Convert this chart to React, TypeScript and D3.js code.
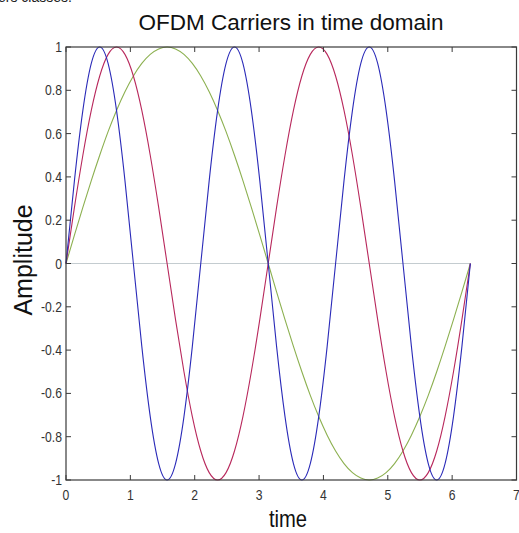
import React from "react";
import * as d3 from "d3";

const time = [0, 0.131, 0.262, 0.393, 0.524, 0.654, 0.785, 0.916, 1.047, 1.178, 1.309, 1.44, 1.571, 1.702, 1.833, 1.963, 2.094, 2.225, 2.356, 2.487, 2.618, 2.749, 2.88, 3.011, 3.142, 3.272, 3.403, 3.534, 3.665, 3.796, 3.927, 4.058, 4.189, 4.32, 4.451, 4.581, 4.712, 4.843, 4.974, 5.105, 5.236, 5.367, 5.498, 5.629, 5.76, 5.89, 6.021, 6.152, 6.283];

const carrier0 = [0, 0, 0, 0, 0, 0, 0, 0, 0, 0, 0, 0, 0, 0, 0, 0, 0, 0, 0, 0, 0, 0, 0, 0, 0, 0, 0, 0, 0, 0, 0, 0, 0, 0, 0, 0, 0, 0, 0, 0, 0, 0, 0, 0, 0, 0, 0, 0, 0];

const carrier1 = [0, 0.131, 0.259, 0.383, 0.5, 0.609, 0.707, 0.793, 0.866, 0.924, 0.966, 0.991, 1, 0.991, 0.966, 0.924, 0.866, 0.793, 0.707, 0.609, 0.5, 0.383, 0.259, 0.131, 0, -0.131, -0.259, -0.383, -0.5, -0.609, -0.707, -0.793, -0.866, -0.924, -0.966, -0.991, -1, -0.991, -0.966, -0.924, -0.866, -0.793, -0.707, -0.609, -0.5, -0.383, -0.259, -0.131, 0];

const carrier2 = [0, 0.259, 0.5, 0.707, 0.866, 0.966, 1, 0.966, 0.866, 0.707, 0.5, 0.259, 0, -0.259, -0.5, -0.707, -0.866, -0.966, -1, -0.966, -0.866, -0.707, -0.5, -0.259, 0, 0.259, 0.5, 0.707, 0.866, 0.966, 1, 0.966, 0.866, 0.707, 0.5, 0.259, 0, -0.259, -0.5, -0.707, -0.866, -0.966, -1, -0.966, -0.866, -0.707, -0.5, -0.259, 0];

const carrier3 = [0, 0.383, 0.707, 0.924, 1, 0.924, 0.707, 0.383, 0, -0.383, -0.707, -0.924, -1, -0.924, -0.707, -0.383, 0, 0.383, 0.707, 0.924, 1, 0.924, 0.707, 0.383, 0, -0.383, -0.707, -0.924, -1, -0.924, -0.707, -0.383, 0, 0.383, 0.707, 0.924, 1, 0.924, 0.707, 0.383, 0, -0.383, -0.707, -0.924, -1, -0.924, -0.707, -0.383, 0];

const xTicks = [0, 1, 2, 3, 4, 5, 6, 7];
const yTicks = [1, 0.8, 0.6, 0.4, 0.2, 0, -0.2, -0.4, -0.6, -0.8, -1];
const yTickLabels = ["1", "0.8", "0.6", "0.4", "0.2", "0", "-0.2", "-0.4", "-0.6", "-0.8", "-1"];

const series = [
  { name: "c0", values: carrier0, color: "#c4ccd0" },
  { name: "c1", values: carrier1, color: "#8cb050" },
  { name: "c2", values: carrier2, color: "#b8285c" },
  { name: "c3", values: carrier3, color: "#2a2ab8" },
];

export default function App() {
  const W = 519, H = 533;
  const left = 66, right = 516.5, top = 47, bottom = 480;
  const x = d3.scaleLinear().domain([0, 7]).range([left, right]);
  const y = d3.scaleLinear().domain([-1, 1]).range([bottom, top]);
  const line = d3
    .line<number>()
    .x((_, i) => x(time[i]))
    .y((d) => y(d))
    .curve(d3.curveNatural);
  const font = "'Liberation Sans', Arial, sans-serif";
  const axisColor = "#3a3a3a";
  const tl = 5;
  const sq = 0.84;
  return (
    <div style={{ position: "absolute", left: 0, top: 0 }}>
      <svg width={W} height={H} style={{ display: "block", background: "#fff" }}>
        <text x={-2} y={2} fontFamily={font} fontSize={14} fill="#222">
          ers classes.
        </text>
        <text x={291} y={30} textAnchor="middle" fontFamily={font} fontSize={22.5} fill="#111">
          OFDM Carriers in time domain
        </text>
        {series.map((s) => (
          <path key={s.name} d={line(s.values) || ""} fill="none" stroke={s.color} strokeWidth={1.1} />
        ))}
        <rect x={left} y={top} width={right - left} height={bottom - top} fill="none" stroke={axisColor} strokeWidth={1.2} />
        {xTicks.map((t) => (
          <g key={"x" + t}>
            <line x1={x(t)} x2={x(t)} y1={bottom} y2={bottom - tl} stroke={axisColor} />
            <line x1={x(t)} x2={x(t)} y1={top} y2={top + tl} stroke={axisColor} />
            <text
              transform={`translate(${x(t)}, 500) scale(${sq}, 1)`}
              textAnchor="middle"
              fontFamily={font}
              fontSize={14.5}
              fill="#333"
            >
              {t}
            </text>
          </g>
        ))}
        {yTicks.map((t, i) => (
          <g key={"y" + t}>
            <line x1={left} x2={left + tl} y1={y(t)} y2={y(t)} stroke={axisColor} />
            <line x1={right} x2={right - tl} y1={y(t)} y2={y(t)} stroke={axisColor} />
            <text
              transform={`translate(62, ${y(t) + 5}) scale(${sq}, 1)`}
              textAnchor="end"
              fontFamily={font}
              fontSize={14.5}
              fill="#333"
            >
              {yTickLabels[i]}
            </text>
          </g>
        ))}
        <text
          transform={`translate(288, 527) scale(0.86, 1)`}
          textAnchor="middle"
          fontFamily={font}
          fontSize={23.5}
          fill="#111"
        >
          time
        </text>
        <text
          transform={`translate(32, 260) rotate(-90)`}
          textAnchor="middle"
          fontFamily={font}
          fontSize={25}
          fill="#111"
        >
          Amplitude
        </text>
      </svg>
    </div>
  );
}
